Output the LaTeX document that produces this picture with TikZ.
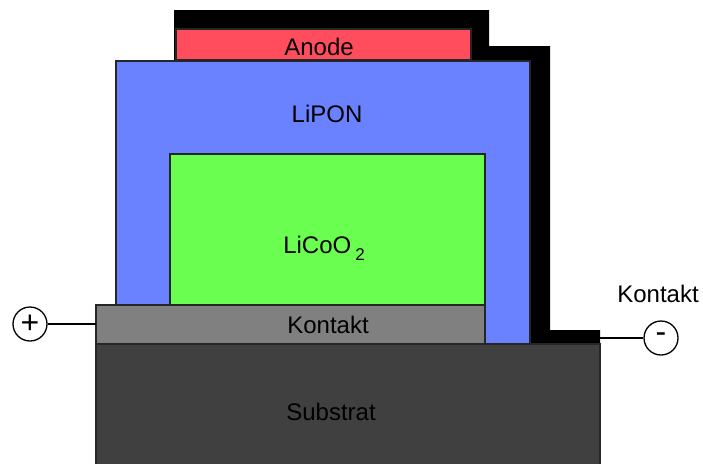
\documentclass[tikz,border=0pt]{standalone}
\usepackage{fontspec}
\setmainfont{Liberation Sans}
\definecolor{liponc}{RGB}{106,130,255}
\definecolor{anodec}{RGB}{255,77,94}
\definecolor{cathodec}{RGB}{106,255,80}
\definecolor{kontaktc}{RGB}{128,128,128}
\definecolor{substrc}{RGB}{64,64,64}
\begin{document}
\begin{tikzpicture}[x=1pt,y=-1pt,
  layer/.style={draw=black!85, line width=1.3pt, anchor=north west, inner sep=0pt, outer sep=0pt},
  lbl/.style={font=\fontsize{24}{28}\selectfont, anchor=base, inner sep=0pt},
  pole/.style={circle, draw, line width=1.3pt, minimum size=34pt, inner sep=0pt, fill=white, font=\fontsize{32}{36}\selectfont},
  wire/.style={line width=1.3pt}]
\useasboundingbox (0,0) rectangle (703,463);
% cathode current collector (black)
\fill[black] (174,10) -- (489,10) -- (489,46) -- (550,46) -- (550,330) -- (600,330) -- (600,345) -- (174,345) -- cycle;
\coordinate (tip) at (600,338);
% layers
\node[layer, fill=liponc, minimum width=414pt, minimum height=284pt] (lipon) at (116,61) {};
\node[layer, fill=anodec, minimum width=295pt, minimum height=31pt] (anode) at (176,29) {};
\node[layer, fill=cathodec, minimum width=315pt, minimum height=151pt] (licoo) at (170,154) {};
\node[layer, fill=kontaktc, minimum width=389pt, minimum height=39pt] (kontakt) at (96,305) {};
\node[layer, fill=substrc, minimum width=504pt, minimum height=125pt] (substrat) at (96,344) {};
% labels
\node[lbl] (tanode) at (319,55) {Anode};
\node[lbl] (tlipon) at (327,122) {LiPON};
\node[lbl] (tlicoo) at (324,253) {LiCoO\hspace{4pt}\raisebox{-7pt}{\fontsize{17}{20}\selectfont 2}};
\node[lbl] (tkontakt) at (328,333) {Kontakt};
\node[lbl] (tsubstrat) at (331,420) {Substrat};
\node[lbl] (tkontaktr) at (658,302) {Kontakt};
% poles
\node[pole] (plus) at (30,324) {+};
\node[pole] (minus) at (661,338) {-};
\draw[wire] (plus.east) -- (plus.east -| kontakt.west);
\draw[wire] (tip) -- (minus.west);
\end{tikzpicture}
\end{document}
